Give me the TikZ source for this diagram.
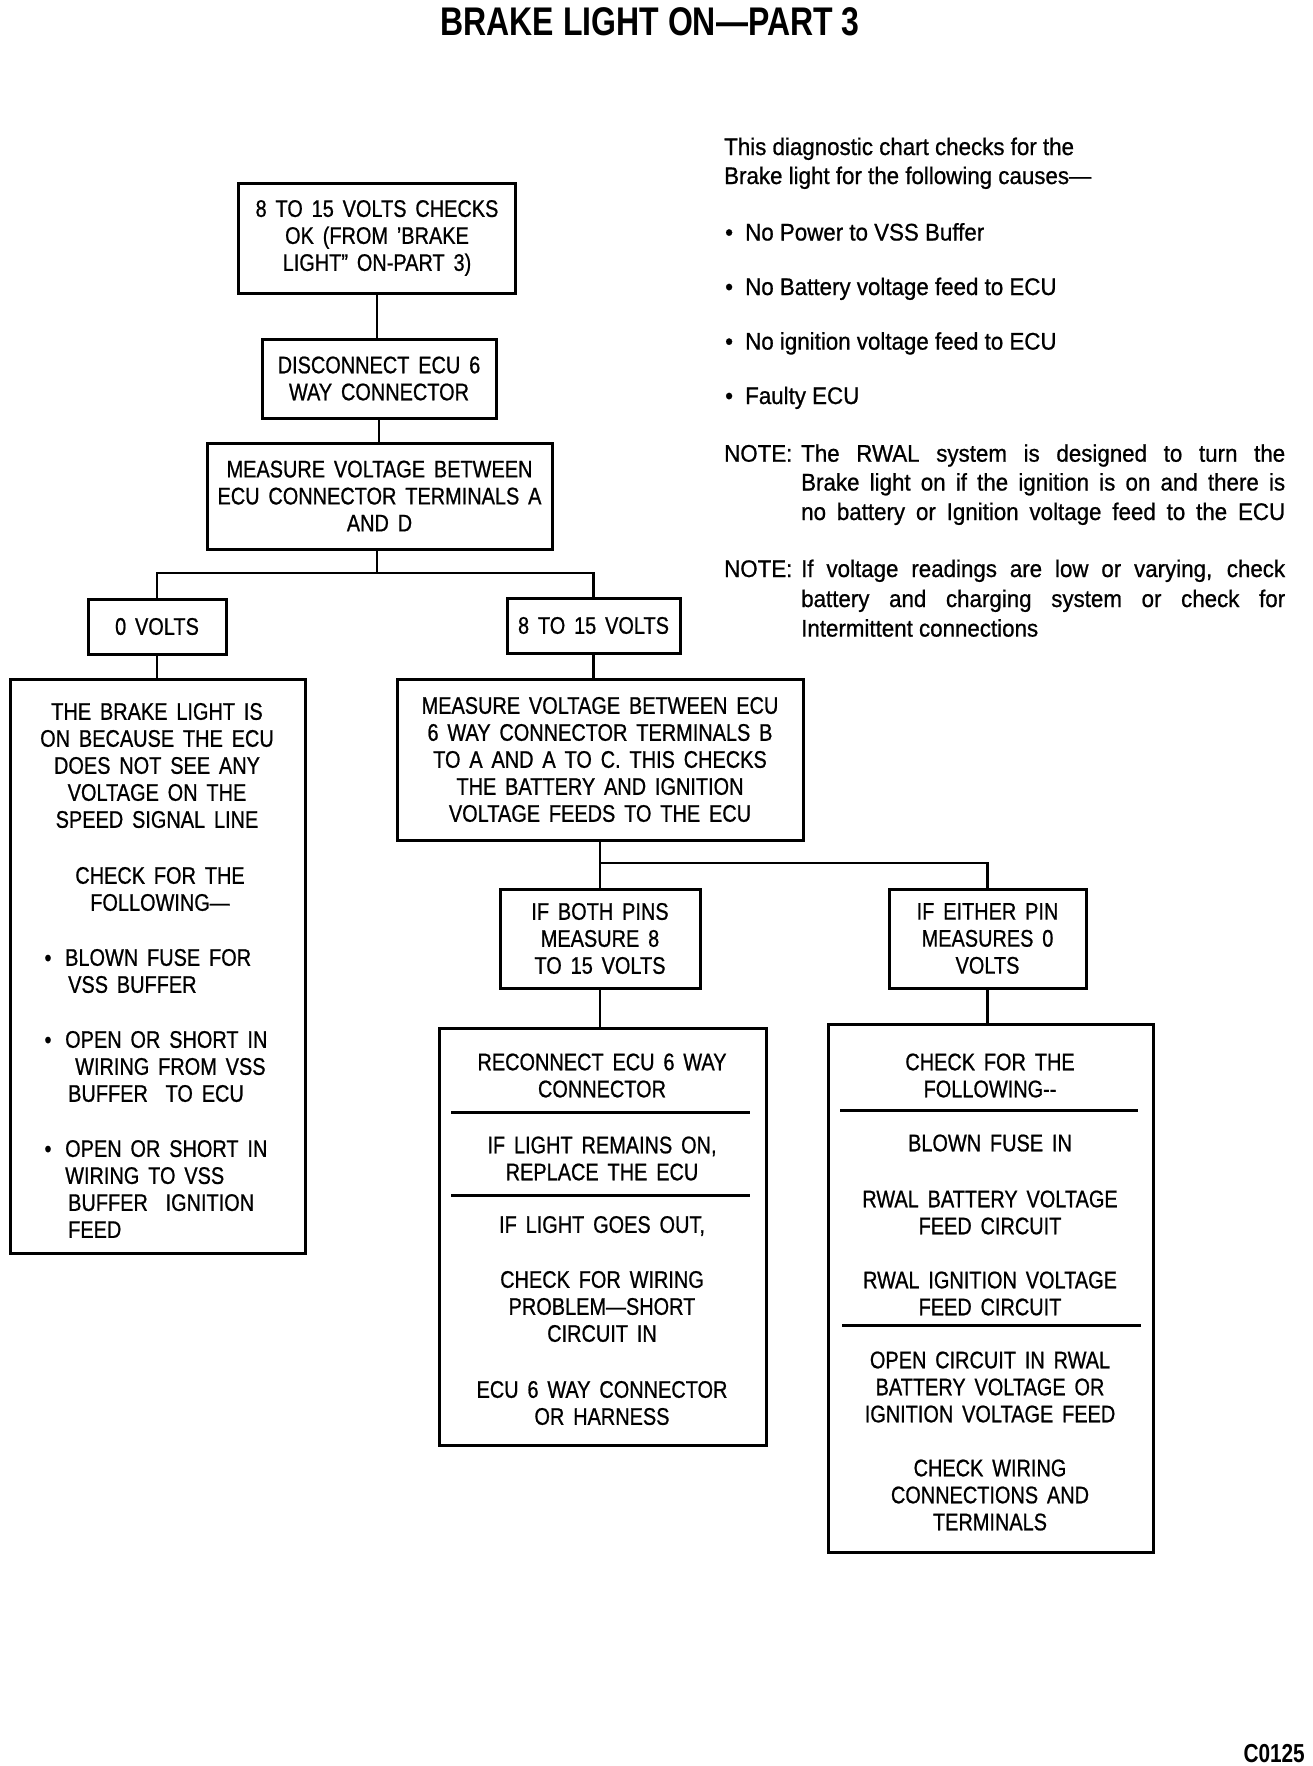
\documentclass[tikz,border=0pt]{standalone}
\usepackage{fontspec}
\setmainfont{Liberation Sans}[FakeStretch=0.83,WordSpace=1.6,FakeBold=0.8,Ligatures=TeX]
\newfontfamily\rfont{Liberation Sans}[FakeStretch=0.93,FakeBold=0.8,Ligatures=TeX]
\newfontfamily\tfont{Liberation Sans}[FakeStretch=0.8,Ligatures=TeX]
\newcommand\bxf{\fontsize{24}{27}\selectfont}
\newcommand\rxf{\rfont\fontsize{24}{29}\selectfont}
\begin{document}
\begin{tikzpicture}[x=1pt,y=-1pt,
  box/.style={draw,line width=3pt,rectangle,inner sep=0pt,align=center,font=\bxf},
  conn/.style={line width=2.6pt},
  sepl/.style={line width=3pt},
  txt/.style={inner sep=0pt,align=center,font=\bxf},
  ltxt/.style={inner sep=0pt,align=left,font=\bxf},
  rtxt/.style={inner sep=0pt,anchor=base west,font=\rxf},
]
\path[use as bounding box] (0,0) rectangle (1312,1766);

% title
\node[inner sep=0pt,anchor=base,font=\tfont\bfseries\fontsize{40}{40}\selectfont] (title) at (650,36) {BRAKE LIGHT ON---PART 3};

% main chain
\node[box,minimum width=277pt,minimum height=110pt] (b1) at (377,238) {8 TO 15 VOLTS CHECKS\\OK (FROM 'BRAKE\\LIGHT" ON-PART 3)};
\node[box,minimum width=234pt,minimum height=79pt] (b2) at (379,378.5) {DISCONNECT ECU 6\\WAY CONNECTOR};
\node[box,minimum width=345pt,minimum height=106pt] (b3) at (379.5,496) {MEASURE VOLTAGE BETWEEN\\ECU CONNECTOR TERMINALS A\\AND D};
\node[box,minimum width=138pt,minimum height=55pt] (zero) at (157,626.5) {0 VOLTS};
\node[box,minimum width=173pt,minimum height=55pt] (eight) at (593.5,625.5) {8 TO 15 VOLTS};
\node[box,minimum width=295pt,minimum height=574pt] (lbox) at (157.5,966) {};
\node[box,minimum width=406pt,minimum height=161pt] (mid) at (600,759.5) {MEASURE VOLTAGE BETWEEN ECU\\6 WAY CONNECTOR TERMINALS B\\TO A AND A TO C. THIS CHECKS\\THE BATTERY AND IGNITION\\VOLTAGE FEEDS TO THE ECU};
\node[box,minimum width=200pt,minimum height=99pt] (both) at (600,938.5) {IF BOTH PINS\\MEASURE 8\\TO 15 VOLTS};
\node[box,minimum width=197pt,minimum height=99pt] (either) at (987.5,938.5) {IF EITHER PIN\\MEASURES 0\\VOLTS};
\node[box,minimum width=327pt,minimum height=417pt] (recon) at (602.5,1236.5) {};
\node[box,minimum width=325pt,minimum height=528pt] (rbox) at (990.5,1288) {};

% left box text
\node[txt] (lp1) at (157,765.5) {THE BRAKE LIGHT IS\\ON BECAUSE THE ECU\\DOES NOT SEE ANY\\VOLTAGE ON THE\\SPEED SIGNAL LINE};
\node[txt] (lp2) at (160,889) {CHECK FOR THE\\FOLLOWING---};
\node[inner sep=0pt,anchor=base,font=\bxf] (d1) at (48,966) {\textbullet};
\node[ltxt,anchor=west] (lb1) at (65,971) {BLOWN FUSE FOR\\\hspace*{3pt}VSS BUFFER};
\node[inner sep=0pt,anchor=base,font=\bxf] (d2) at (48,1048) {\textbullet};
\node[ltxt,anchor=west] (lb2) at (65,1066.5) {OPEN OR SHORT IN\\\hspace*{10pt}WIRING FROM VSS\\\hspace*{3pt}BUFFER\ \ TO ECU};
\node[inner sep=0pt,anchor=base,font=\bxf] (d3) at (48,1157) {\textbullet};
\node[ltxt,anchor=west] (lb3) at (65,1189) {OPEN OR SHORT IN\\WIRING TO VSS\\\hspace*{3pt}BUFFER\ \ IGNITION\\\hspace*{3pt}FEED};

% reconnect box text
\node[txt] (s1) at (602,1075.5) {RECONNECT ECU 6 WAY\\CONNECTOR};
\node[txt] (s2) at (602,1158.5) {IF LIGHT REMAINS ON,\\REPLACE THE ECU};
\node[txt] (s3) at (602,1226) {IF LIGHT GOES OUT,};
\node[txt] (s4) at (602,1306.5) {CHECK FOR WIRING\\PROBLEM---SHORT\\CIRCUIT IN};
\node[txt] (s5) at (602,1403) {ECU 6 WAY CONNECTOR\\OR HARNESS};
\draw[sepl] (451,1112) -- (750,1112);
\draw[sepl] (451,1195) -- (750,1195);

% right box text
\node[txt] (r1) at (990,1075.5) {CHECK FOR THE\\FOLLOWING-{}-};
\node[txt] (r2) at (990,1143) {BLOWN FUSE IN};
\node[txt] (r3) at (990,1212.5) {RWAL BATTERY VOLTAGE\\FEED CIRCUIT};
\node[txt] (r4) at (990,1293.5) {RWAL IGNITION VOLTAGE\\FEED CIRCUIT};
\node[txt] (r5) at (990,1387) {OPEN CIRCUIT IN RWAL\\BATTERY VOLTAGE OR\\IGNITION VOLTAGE FEED};
\node[txt] (r6) at (990,1495) {CHECK WIRING\\CONNECTIONS AND\\TERMINALS};
\draw[sepl] (840,1110) -- (1138,1110);
\draw[sepl] (842,1325) -- (1141,1325);

% right-hand notes
\node[rtxt] (t1) at (724,155) {This diagnostic chart checks for the};
\node[rtxt] (t2) at (724,184) {Brake light for the following causes---};
\node[rtxt] (u1) at (725,240.5) {\textbullet};
\node[rtxt] (t3) at (745,240.5) {No Power to VSS Buffer};
\node[rtxt] (u2) at (725,295) {\textbullet};
\node[rtxt] (t4) at (745,295) {No Battery voltage feed to ECU};
\node[rtxt] (u3) at (725,349.6) {\textbullet};
\node[rtxt] (t5) at (745,349.6) {No ignition voltage feed to ECU};
\node[rtxt] (u4) at (725,404) {\textbullet};
\node[rtxt] (t6) at (745,404) {Faulty ECU};
\node[rtxt] (n1) at (724,461.7) {NOTE:};
\node[rtxt] (n1a) at (801,461.7) {\makebox[484pt][s]{The RWAL system is designed to turn the}};
\node[rtxt] (n1b) at (801,490.5) {\makebox[484pt][s]{Brake light on if the ignition is on and there is}};
\node[rtxt] (n1c) at (801,520) {\makebox[484pt][s]{no battery or Ignition voltage feed to the ECU}};
\node[rtxt] (n2) at (724,577) {NOTE:};
\node[rtxt] (n2a) at (801,577) {\makebox[484pt][s]{If voltage readings are low or varying, check}};
\node[rtxt] (n2b) at (801,607) {\makebox[484pt][s]{battery and charging system or check for}};
\node[rtxt] (n2c) at (801,636.6) {Intermittent connections};

% code
\node[inner sep=0pt,anchor=base east,font=\tfont\bfseries\fontsize{26}{26}\selectfont] (code) at (1305,1762) {C0125};

% connectors
\coordinate (j1) at (377,573);
\coordinate (j2) at (600,863);
\draw[conn] (b1.south) -- (b1.south |- b2.north);
\draw[conn] (b2.south) -- (b2.south |- b3.north);
\draw[conn] (j1 |- b3.south) -- (j1);
\draw[conn] (zero.north) |- (j1) -| (eight.north);
\draw[conn] (zero.south) -- (zero.south |- lbox.north);
\draw[conn] (eight.south) -- (eight.south |- mid.north);
\draw[conn] (mid.south) -- (j2) -| (either.north);
\draw[conn] (j2) -- (both.north);
\draw[conn] (both.south) -- (both.south |- recon.north);
\draw[conn] (either.south) -- (either.south |- rbox.north);
\end{tikzpicture}
\end{document}
